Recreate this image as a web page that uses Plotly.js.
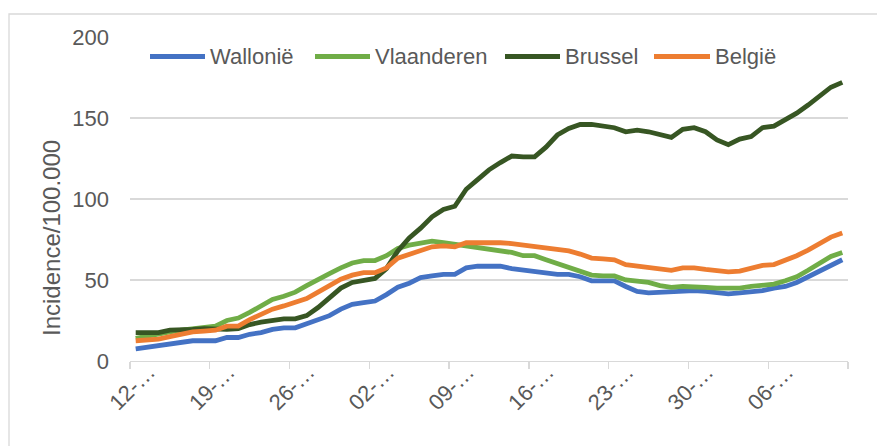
<!DOCTYPE html>
<html>
<head>
<meta charset="utf-8">
<script src="https://cdn.plot.ly/plotly-3.0.1.min.js"></script>
<style>html,body{margin:0;padding:0;background:#fff;}#chart{width:877px;height:446px;}</style>
</head>
<body>
<div id="chart"></div>
<script>
// Categories: daily dates (12 jul – 12 sep)
const dates = [
  "12-jul","13-jul","14-jul","15-jul","16-jul","17-jul","18-jul","19-jul","20-jul","21-jul",
  "22-jul","23-jul","24-jul","25-jul","26-jul","27-jul","28-jul","29-jul","30-jul","31-jul",
  "01-aug","02-aug","03-aug","04-aug","05-aug","06-aug","07-aug","08-aug","09-aug","10-aug",
  "11-aug","12-aug","13-aug","14-aug","15-aug","16-aug","17-aug","18-aug","19-aug","20-aug",
  "21-aug","22-aug","23-aug","24-aug","25-aug","26-aug","27-aug","28-aug","29-aug","30-aug",
  "31-aug","01-sep","02-sep","03-sep","04-sep","05-sep","06-sep","07-sep","08-sep","09-sep",
  "10-sep","11-sep","12-sep"
];
// Tick labels (as shown, truncated)
const tickDates = ["12-jul","19-jul","26-jul","02-aug","09-aug","16-aug","23-aug","30-aug","06-sep"];
const tickLabels = ["12-…","19-…","26-…","02-…","09-…","16-…","23-…","30-…","06-…"];

// Series
const wallonie = [7.5,8.5,9.5,10.5,11.5,12.5,12.5,12.5,14.5,14.5,
  16.5,17.5,19.5,20.5,20.5,23,26,28,32,35,
  36,37,41,45.5,48,51.5,52.5,53.5,53.5,57.5,
  58.5,58.5,58.5,57,56,55,54,53.5,53.5,52,
  49.5,49.5,49.5,46,43,42,42.5,42.5,43,43.5,
  43,42,41.5,42,42.5,43.5,45,46,48.5,52,
  56,59.5,62.5];
const vlaanderen = [14,15.5,17,18,19,20,21,21.5,25,26.5,
  30,34,38,40,42.5,46.5,50.5,54,57.5,60.5,
  62,62,65,69.5,71.5,73,74,73,72,71,
  70,69,68,67,65,65,62.5,60,57.5,55,
  53,52.5,52.5,50,49,48.5,46.5,45.5,46,46,
  45.5,45,45,45,46,47,47.5,49.5,52,56,
  60,64.5,67];
const brussel = [17.5,17.5,17.5,19,19,19.5,20,19.5,19.5,20,
  22.5,24,25,26,26,28,33,39.5,45,48.5,
  50,51,57,68,76,82,89,93.5,95.5,106,
  112,118,122.5,126.5,126,126,132,139.5,143.5,146,
  146,145,144,141.5,142.5,141.5,139.5,138,143,144,
  141.5,136.5,133.5,137,138.5,144,145,149,153,158,
  163.5,169,172];
const belgie = [12.5,12.8,13.5,15,16.5,18,18.5,19,21.5,21.5,
  25.5,29,32,34,36,38.5,42.5,46.5,50.5,53,
  54.5,54.5,57.5,63.5,66,68.5,70.5,71,70.5,73,
  73,73.5,73,72.5,71.5,70.5,70,69,68,66,
  63.5,63,62.5,59.5,58.5,58,57,56,57.5,57.5,
  56.5,55.5,55,55.5,57,59,59.5,62,65,68.5,
  72.5,76.5,79];

const seriesNames = ["Wallonië","Vlaanderen","Brussel","België"];
const seriesData = [wallonie, vlaanderen, brussel, belgie];
const seriesColors = ["#4472C4","#70AD47","#375623","#ED7D31"];

const FONT = "Liberation Sans, Arial, sans-serif";
const TXT = "#595959";
const GRID = "#d9d9d9";

const W = 877, H = 446, ML = 130, MR = 29, MT = 37, MB = 85;
const PW = W - ML - MR, PH = H - MT - MB;
const px2x = p => (p - ML) / PW;
const px2y = p => (H - MB - p) / PH;

const traces = seriesData.map((d, k) => ({
  type: "scatter", mode: "lines", x: dates, y: d, name: seriesNames[k],
  line: {color: seriesColors[k], width: 4.8}, hoverinfo: "skip", showlegend: false
}));
// empty trace so the tick-mark axis is drawn
traces.push({type: "scatter", mode: "lines", x: [], y: [], xaxis: "x2", yaxis: "y", showlegend: false, hoverinfo: "skip"});

// custom legend
const legSample = [[150,205],[315,370],[505,560],[654,710]];
const legY = 56.5;
const shapes = [];
const annotations = [];
seriesNames.forEach((n, k) => {
  shapes.push({type: "line", xref: "paper", yref: "paper",
    x0: px2x(legSample[k][0]), x1: px2x(legSample[k][1]), y0: px2y(legY), y1: px2y(legY),
    line: {color: seriesColors[k], width: 4.8}});
  annotations.push({xref: "paper", yref: "paper", x: px2x(legSample[k][1] + 3), y: px2y(legY),
    xanchor: "left", yanchor: "middle", showarrow: false, text: n,
    font: {family: FONT, size: 22, color: TXT}});
});
// y-axis title
annotations.push({xref: "paper", yref: "paper", x: px2x(51), y: px2y(238), xanchor: "center", yanchor: "middle",
  showarrow: false, textangle: -90, text: "Incidence/100.000", font: {family: FONT, size: 24, color: TXT}});
// chart border
shapes.push({type: "rect", xref: "paper", yref: "paper", x0: px2x(9), x1: px2x(900), y0: px2y(14), y1: px2y(470),
  line: {color: GRID, width: 1.3}, fillcolor: "rgba(0,0,0,0)", layer: "below"});

const layout = {
  width: W, height: H,
  margin: {l: ML, r: MR, t: MT, b: MB, pad: 0},
  paper_bgcolor: "#ffffff", plot_bgcolor: "#ffffff",
  showlegend: false,
  font: {family: FONT, size: 22, color: TXT},
  xaxis: {
    type: "category", range: [-0.5, dates.length - 0.5],
    tickvals: tickDates, ticktext: tickLabels, tickangle: -45,
    ticks: "", showgrid: false, zeroline: false,
    showline: true, linecolor: GRID, linewidth: 1.3,
    tickfont: {family: FONT, size: 22, color: TXT},
    ticklabelstandoff: -12, ticklabelshift: 13
  },
  xaxis2: {
    overlaying: "x", anchor: "y", side: "bottom", type: "linear",
    range: [-0.5, dates.length - 0.5],
    tickvals: [-0.5, 6.5, 13.5, 20.5, 27.5, 34.5, 41.5, 48.5, 55.5, 62.5],
    ticks: "outside", ticklen: 7, tickwidth: 1.3, tickcolor: GRID,
    showticklabels: false, showgrid: false, zeroline: false, showline: false
  },
  yaxis: {
    range: [0, 200], tickvals: [0, 50, 100, 150, 200],
    showgrid: true, gridcolor: GRID, gridwidth: 1.3, zeroline: false, showline: false,
    ticks: "", tickfont: {family: FONT, size: 22, color: TXT}, ticklabelstandoff: 20
  },
  shapes: shapes,
  annotations: annotations
};

Plotly.newPlot("chart", traces, layout, {staticPlot: true, displayModeBar: false});
</script>
</body>
</html>
